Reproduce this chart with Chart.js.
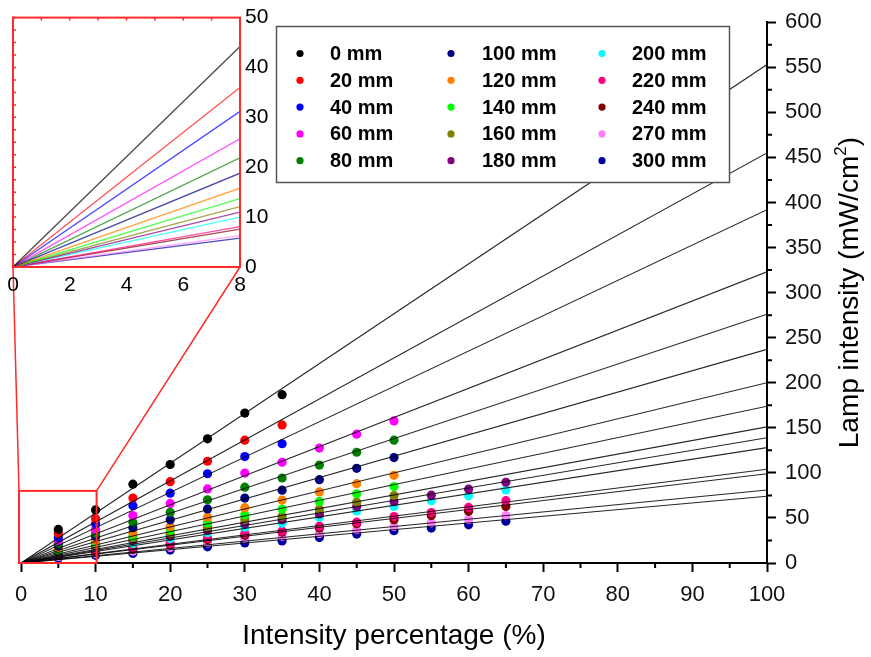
<!DOCTYPE html>
<html>
<head>
<meta charset="utf-8">
<script src="https://cdn.jsdelivr.net/npm/chart.js@4.4.1/dist/chart.umd.min.js"></script>
<style>
  html, body { margin: 0; padding: 0; background: #ffffff; }
  #wrap { position: relative; width: 871px; height: 657px; overflow: hidden; }
  #mainChart { position: absolute; left: 0; top: 0; }
  #insetChart { position: absolute; left: 0; top: 0; }
</style>
</head>
<body>
<div id="wrap">
  <canvas id="mainChart" width="871" height="657"></canvas>
  <canvas id="insetChart" width="272" height="300"></canvas>
</div>
<script>
// ---------------- DATA ----------------
const seriesLabels = ['0 mm', '20 mm', '40 mm', '60 mm', '80 mm',
                      '100 mm', '120 mm', '140 mm', '160 mm', '180 mm',
                      '200 mm', '220 mm', '240 mm', '270 mm', '300 mm'];

// intensity percentage (%) sample positions
const xShort = [5, 10, 15, 20, 25, 30, 35];
const xMid   = [5, 10, 15, 20, 25, 30, 35, 40, 45, 50];
const xLong  = [5, 10, 15, 20, 25, 30, 35, 40, 45, 50, 55, 60, 65];

// measured lamp intensity (mW/cm2)
const lamp0mm   = [37.3, 58.9, 87.4, 109.3, 137.8, 166.3, 186.7];
const lamp20mm  = [32.6, 49.0, 72.0, 90.2, 112.9, 136.3, 153.2];
const lamp40mm  = [28.2, 43.5, 63.6, 77.5, 99.0, 118.1, 132.3];
const lamp60mm  = [25.0, 37.5, 52.6, 66.1, 82.2, 99.8, 111.8, 127.5, 142.9, 157.6];
const lamp80mm  = [22.0, 33.2, 45.3, 56.2, 70.2, 84.1, 94.3, 108.6, 122.9, 136.3];
const lamp100mm = [19.5, 29.6, 39.1, 47.9, 60.0, 72.0, 80.8, 92.4, 105.0, 117.0];
const lamp120mm = [17.0, 25.5, 33.2, 40.6, 50.8, 61.4, 69.8, 78.9, 88.0, 97.3];
const lamp140mm = [15.0, 23.0, 29.6, 36.2, 44.6, 53.4, 59.9, 68.3, 76.8, 84.8];
const lamp160mm = [13.5, 20.5, 27.1, 32.6, 39.8, 48.2, 51.9, 59.9, 67.6, 74.9];
const lamp180mm = [12.5, 19.0, 25.2, 29.9, 36.2, 43.5, 47.9, 54.5, 62.8, 68.3, 75.3, 81.9, 89.6];
const lamp200mm = [11.0, 17.5, 21.6, 27.1, 33.7, 39.8, 44.2, 50.8, 57.8, 62.8, 69.1, 74.6, 81.1];
const lamp220mm = [9.0, 13.5, 17.2, 21.6, 27.7, 32.6, 35.4, 40.9, 45.3, 51.5, 55.9, 61.7, 69.1];
const lamp240mm = [8.5, 12.5, 15.4, 20.5, 26.0, 30.7, 34.3, 38.7, 43.5, 47.9, 52.6, 57.3, 62.8];
const lamp270mm = [7.0, 10.5, 13.2, 17.2, 22.3, 27.1, 29.6, 32.6, 36.9, 40.6, 44.6, 48.2, 52.6];
const lamp300mm = [5.5, 8.5, 10.6, 14.3, 17.9, 22.3, 24.4, 28.2, 32.1, 35.8, 38.7, 42.4, 46.4];

// linear-fit value of each series at 100 % (main plot) and at 8 % (inset)
const fitAt100    = [553, 455, 392, 323, 276, 237, 200, 174, 151, 139, 128, 104, 99, 81, 74];
const insetFitAt8 = [44.2, 36.0, 31.2, 25.7, 21.9, 18.8, 15.8, 13.7, 12.1, 11.0, 10.0, 8.1, 7.6, 6.3, 5.8];

// zoomed region marked on the main plot
const zoomBoxX = [0, 10];
const zoomBoxY = [0, 80];

// ---------------- STYLE ----------------
const seriesColors = ['#000000', '#ff0000', '#0000ff', '#ff00ff', '#008000',
                      '#000080', '#ff8000', '#00ff00', '#808000', '#800080',
                      '#00ffff', '#ff0080', '#800000', '#ff80ff', '#0000a0'];
const FONT = "'Liberation Sans', Arial, Helvetica, sans-serif";
const NARROW = "'Liberation Sans Narrow', 'Arial Narrow', 'Liberation Sans', Arial, sans-serif";
const RED = '#ff2a2a';

const seriesX = [xShort, xShort, xShort, xMid, xMid, xMid, xMid, xMid, xMid,
                 xLong, xLong, xLong, xLong, xLong, xLong];
const seriesY = [lamp0mm, lamp20mm, lamp40mm, lamp60mm, lamp80mm, lamp100mm, lamp120mm,
                 lamp140mm, lamp160mm, lamp180mm, lamp200mm, lamp220mm, lamp240mm,
                 lamp270mm, lamp300mm];

function withAlpha(hex, a) {
  const n = parseInt(hex.slice(1), 16);
  return `rgba(${(n >> 16) & 255},${(n >> 8) & 255},${n & 255},${a})`;
}

// ---------------- INSET CHART ----------------
const insetFramePlugin = {
  id: 'insetFrame',
  afterDraw(chart) {
    const { ctx, chartArea: ca, scales } = chart;
    ctx.save();
    ctx.strokeStyle = RED;
    ctx.lineWidth = 1.5;
    ctx.beginPath();
    for (let v = 0; v <= 8; v += 1) {
      const px = scales.x.getPixelForValue(v);
      ctx.moveTo(px, ca.top); ctx.lineTo(px, ca.top + 3);
    }
    for (let v = 0; v <= 50; v += 2.5) {
      const py = scales.y.getPixelForValue(v);
      ctx.moveTo(ca.left, py); ctx.lineTo(ca.left + 3, py);
    }
    ctx.stroke();
    ctx.lineWidth = 2;
    ctx.strokeRect(ca.left, ca.top, ca.right - ca.left, ca.bottom - ca.top);
    ctx.restore();
  }
};

const insetChart = new Chart(document.getElementById('insetChart'), {
  type: 'scatter',
  data: {
    datasets: seriesLabels.map((lab, i) => ({
      label: lab,
      data: [{ x: 0, y: 0 }, { x: 8, y: insetFitAt8[i] }],
      showLine: true,
      borderColor: withAlpha(seriesColors[i], 0.7),
      borderWidth: 1.3,
      pointRadius: 0
    }))
  },
  options: {
    responsive: false,
    animation: false,
    events: [],
    layout: { padding: { left: 13, top: 16, right: 0, bottom: 0 } },
    plugins: { legend: { display: false }, tooltip: { enabled: false } },
    scales: {
      x: {
        type: 'linear', position: 'bottom', min: 0, max: 8,
        ticks: { stepSize: 2, color: '#000', font: { family: NARROW, size: 21 }, padding: 6, maxRotation: 0 },
        grid: { display: false, drawTicks: false },
        border: { display: false },
        afterFit(s) { s.height = 33; }
      },
      y: {
        type: 'linear', position: 'right', min: 0, max: 50,
        ticks: { stepSize: 10, color: '#000', font: { family: NARROW, size: 21 }, padding: 5 },
        grid: { display: false, drawTicks: false },
        border: { display: false },
        afterFit(s) { s.width = 32; }
      }
    }
  },
  plugins: [insetFramePlugin]
});

// ---------------- MAIN CHART ----------------
const decorPlugin = {
  id: 'decor',
  afterDraw(chart) {
    const { ctx, chartArea: ca, scales } = chart;
    const xs = scales.x, ys = scales.y;
    ctx.save();
    // minor ticks
    ctx.strokeStyle = '#000';
    ctx.lineWidth = 2;
    ctx.beginPath();
    for (let v = 5; v < 100; v += 10) {
      const px = xs.getPixelForValue(v);
      ctx.moveTo(px, ca.bottom); ctx.lineTo(px, ca.bottom + 5);
    }
    for (let v = 25; v < 600; v += 50) {
      const py = ys.getPixelForValue(v);
      ctx.moveTo(ca.right, py); ctx.lineTo(ca.right + 5, py);
    }
    ctx.stroke();

    // zoom box and connectors to inset
    const l = xs.getPixelForValue(zoomBoxX[0]) - 2;
    const r = xs.getPixelForValue(zoomBoxX[1]) + 1;
    const t = ys.getPixelForValue(zoomBoxY[1]);
    const b = ys.getPixelForValue(zoomBoxY[0]);
    const ia = insetChart.chartArea;
    ctx.strokeStyle = RED;
    ctx.lineWidth = 2;
    ctx.strokeRect(l, t, r - l, b - t);
    ctx.lineWidth = 1.5;
    ctx.beginPath();
    ctx.moveTo(l, t); ctx.lineTo(ia.left, ia.bottom);
    ctx.moveTo(r, t); ctx.lineTo(ia.right, ia.bottom);
    ctx.stroke();

    // legend box
    const box = { x: 276.5, y: 26.5, w: 453, h: 156 };
    ctx.fillStyle = '#ffffff';
    ctx.fillRect(box.x, box.y, box.w, box.h);
    ctx.strokeStyle = '#555';
    ctx.lineWidth = 1.5;
    ctx.strokeRect(box.x, box.y, box.w, box.h);
    const colMarker = [300, 451, 602];
    const colText = [330, 482, 632];
    ctx.font = `bold 20px ${FONT}`;
    ctx.textBaseline = 'middle';
    ctx.textAlign = 'left';
    chart.data.datasets.forEach((ds) => {
      if (!ds.isSeries) return;
      const col = Math.floor(ds.seriesIndex / 5), row = ds.seriesIndex % 5;
      const y = 53.5 + row * 26.8;
      ctx.fillStyle = ds.backgroundColor;
      ctx.beginPath();
      ctx.arc(colMarker[col], y, 3.6, 0, Math.PI * 2);
      ctx.fill();
      ctx.fillStyle = '#000';
      ctx.fillText(ds.label, colText[col], y + 1);
    });

    // y axis title (reads bottom-to-top, with superscript)
    const cx = 850, cy = (ca.top + ca.bottom) / 2;
    ctx.translate(cx, cy);
    ctx.rotate(-Math.PI / 2);
    ctx.fillStyle = '#000';
    ctx.textBaseline = 'middle';
    const partA = 'Lamp intensity (mW/cm', sup = '2', partB = ')';
    ctx.font = `28px ${FONT}`;
    const wA = ctx.measureText(partA).width, wB = ctx.measureText(partB).width;
    ctx.font = `17px ${FONT}`;
    const wS = ctx.measureText(sup).width;
    let x0 = -(wA + wS + wB) / 2;
    ctx.font = `28px ${FONT}`;
    ctx.fillText(partA, x0, 0);
    ctx.font = `17px ${FONT}`;
    ctx.fillText(sup, x0 + wA, -9);
    ctx.font = `28px ${FONT}`;
    ctx.fillText(partB, x0 + wA + wS, 0);
    ctx.restore();
  }
};

const pointDatasets = seriesLabels.map((lab, i) => ({
  label: lab,
  isSeries: true,
  seriesIndex: i,
  data: seriesX[i].map((x, j) => ({ x: x, y: seriesY[i][j] })),
  backgroundColor: seriesColors[i],
  borderColor: seriesColors[i],
  borderWidth: 0,
  pointRadius: 4.6,
  pointBorderWidth: 0,
  showLine: false,
  order: 1
}));
const fitDatasets = seriesLabels.map((lab, i) => ({
  label: lab + ' fit',
  isSeries: false,
  data: [{ x: 0, y: 0 }, { x: 100, y: fitAt100[i] }],
  showLine: true,
  borderColor: 'rgba(0,0,0,0.85)',
  borderWidth: 1.1,
  pointRadius: 0,
  order: 0
}));

const mainChart = new Chart(document.getElementById('mainChart'), {
  type: 'scatter',
  data: { datasets: pointDatasets.concat(fitDatasets) },
  options: {
    responsive: false,
    animation: false,
    events: [],
    layout: { padding: { left: 21, top: 16, right: 0, bottom: 0 } },
    plugins: { legend: { display: false }, tooltip: { enabled: false } },
    scales: {
      x: {
        type: 'linear', position: 'bottom', min: 0, max: 100,
        ticks: { stepSize: 10, color: '#111', font: { family: FONT, size: 22 }, padding: 10, maxRotation: 0, autoSkip: false },
        grid: { display: true, drawOnChartArea: false, drawTicks: true, tickLength: 9, tickWidth: 2, tickColor: '#000' },
        border: { display: true, color: '#000', width: 2 },
        title: { display: true, text: 'Intensity percentage (%)', color: '#000',
                 font: { family: FONT, size: 28 }, padding: { top: 0, bottom: 4 } },
        afterFit(s) { s.height = 94; }
      },
      y: {
        type: 'linear', position: 'right', min: 0, max: 600,
        ticks: { stepSize: 50, color: '#111', font: { family: FONT, size: 22 }, padding: 9, autoSkip: false },
        grid: { display: true, drawOnChartArea: false, drawTicks: true, tickLength: 9, tickWidth: 2, tickColor: '#000' },
        border: { display: true, color: '#000', width: 2 },
        afterFit(s) { s.width = 104; }
      }
    }
  },
  plugins: [decorPlugin]
});
</script>
</body>
</html>
